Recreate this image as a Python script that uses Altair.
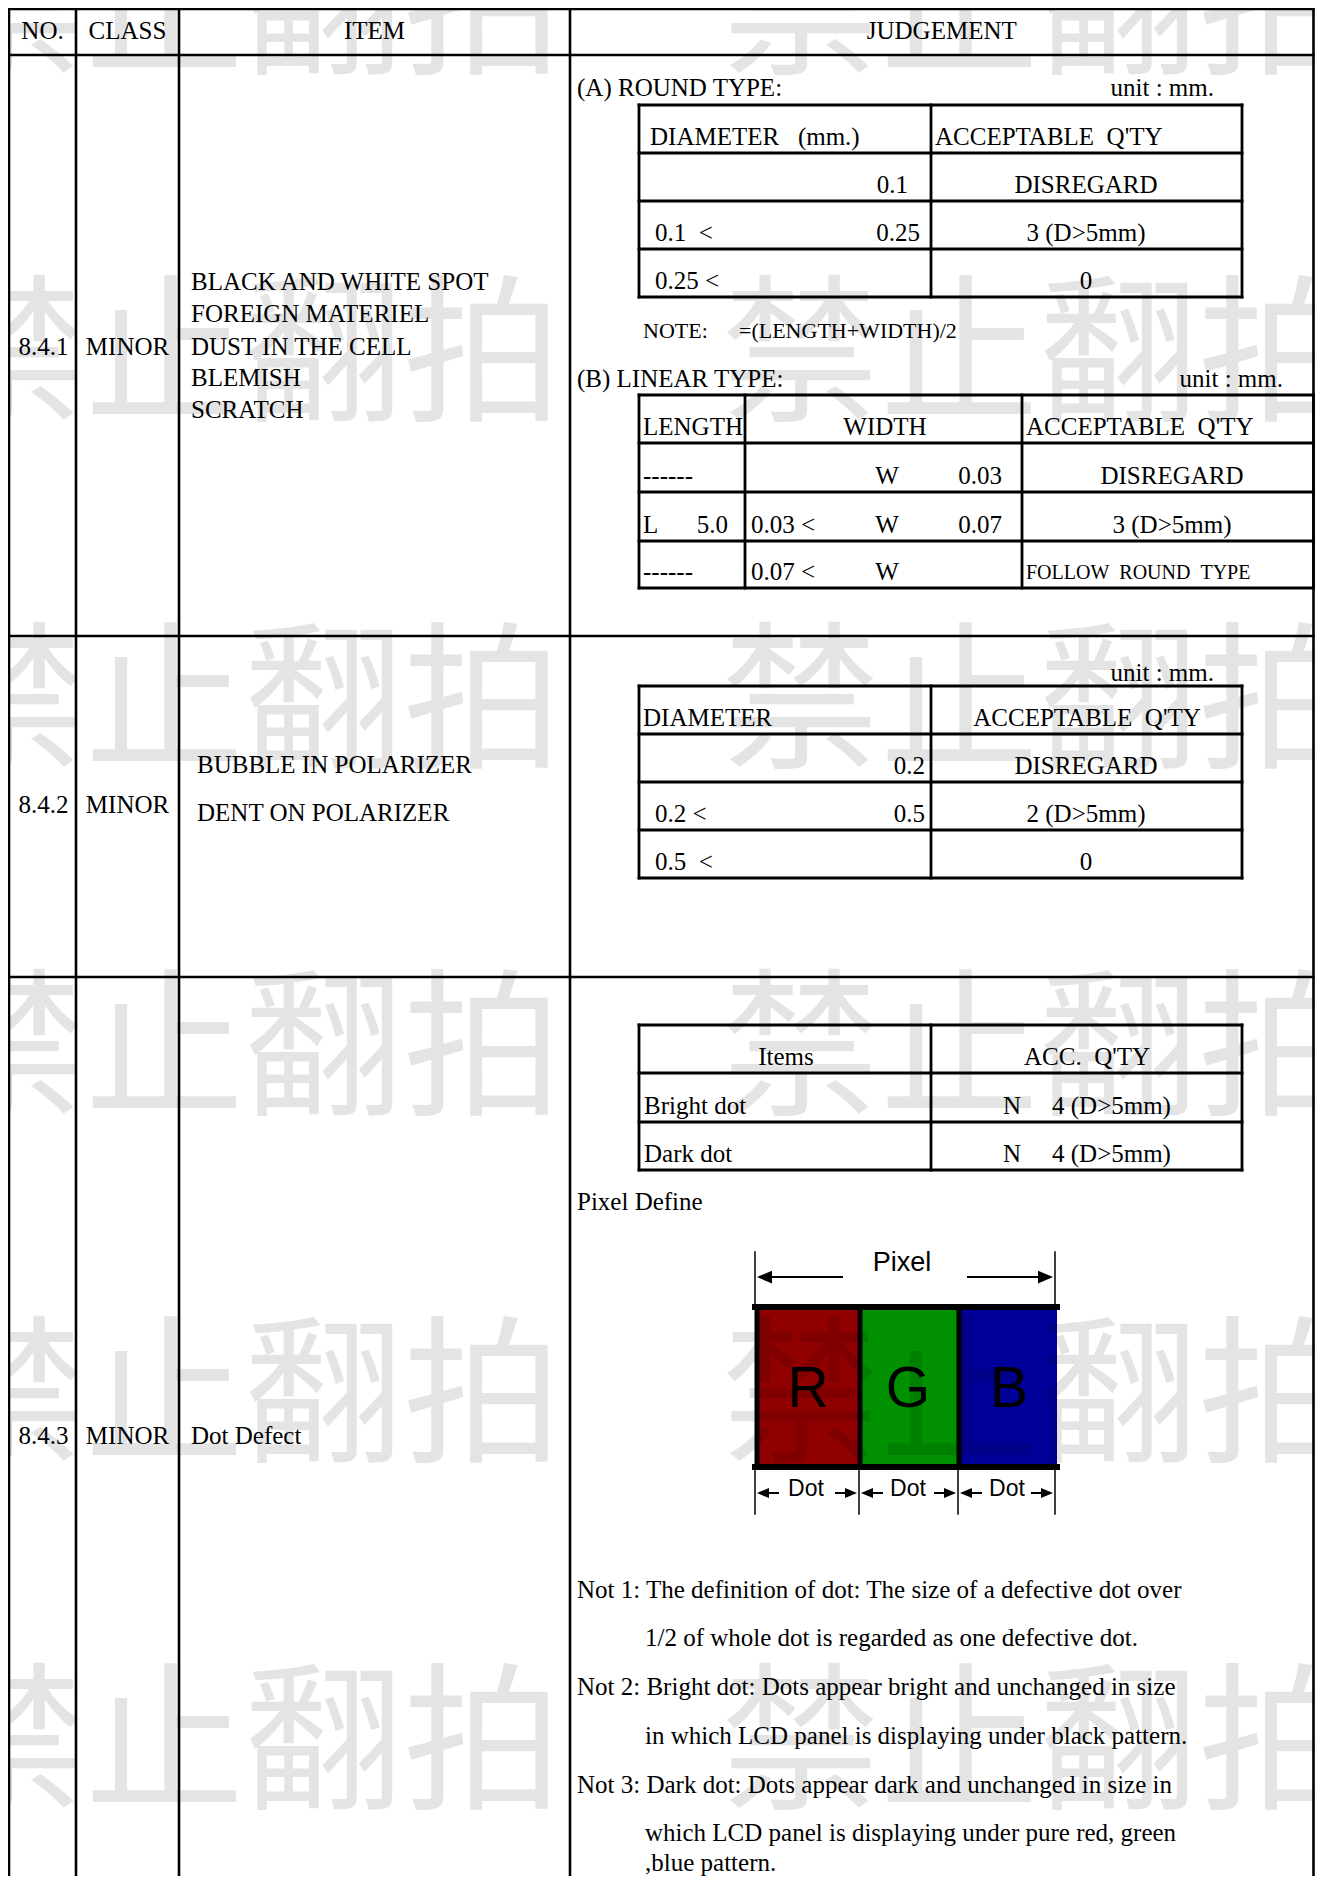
import altair as alt
import pandas as pd

NB = "\u00a0"

# ------------------------------------------------------------------ content
HEADERS = ["NO.", "CLASS", "ITEM", "JUDGEMENT"]
ROW_NO = ["8.4.1", "8.4.2", "8.4.3"]
ROW_CLASS = ["MINOR", "MINOR", "MINOR"]
ITEMS = [
    ["BLACK AND WHITE SPOT", "FOREIGN MATERIEL", "DUST IN THE CELL", "BLEMISH", "SCRATCH"],
    ["BUBBLE IN POLARIZER", "DENT ON POLARIZER"],
    ["Dot Defect"],
]

ROUND_TITLE = "(A) ROUND TYPE:"
LINEAR_TITLE = "(B) LINEAR TYPE:"
UNIT = "unit : mm."
NOTE_LABEL = "NOTE:"
NOTE_TEXT = "=(LENGTH+WIDTH)/2"

ROUND_HEAD = [f"DIAMETER{NB}{NB}{NB}(mm.)", f"ACCEPTABLE{NB}{NB}Q'TY"]
ROUND_LOW = ["", f"0.1{NB}{NB}<", "0.25 <"]
ROUND_HIGH = ["0.1", "0.25", ""]
ROUND_QTY = ["DISREGARD", "3 (D>5mm)", "0"]

LINEAR_HEAD = ["LENGTH", "WIDTH", f"ACCEPTABLE{NB}{NB}Q'TY"]
LINEAR_LEN = ["------", "L", "------"]
LINEAR_LEN_VAL = ["", "5.0", ""]
LINEAR_W_LOW = ["", "0.03 <", "0.07 <"]
LINEAR_W_SYM = ["W", "W", "W"]
LINEAR_W_HIGH = ["0.03", "0.07", ""]
LINEAR_QTY = ["DISREGARD", "3 (D>5mm)", f"FOLLOW{NB}{NB}ROUND{NB}{NB}TYPE"]

POL_HEAD = ["DIAMETER", f"ACCEPTABLE{NB}{NB}Q'TY"]
POL_LOW = ["", "0.2 <", f"0.5{NB}{NB}<"]
POL_HIGH = ["0.2", "0.5", ""]
POL_QTY = ["DISREGARD", "2 (D>5mm)", "0"]

DOT_HEAD = ["Items", f"ACC.{NB}{NB}Q'TY"]
DOT_ITEMS = ["Bright dot", "Dark dot"]
DOT_N = ["N", "N"]
DOT_QTY = ["4 (D>5mm)", "4 (D>5mm)"]

PIXEL_DEFINE = "Pixel Define"
PIXEL_LABEL = "Pixel"
SUBPIXELS = ["R", "G", "B"]
SUBPIXEL_COLORS = ["#900000", "#009000", "#000099"]
DOT_LABEL = "Dot"

NOTE_LINES = [
    "Not 1: The definition of dot: The size of a defective dot over",
    "1/2 of whole dot is regarded as one defective dot.",
    "Not 2: Bright dot: Dots appear bright and unchanged in size",
    "in which LCD panel is displaying under black pattern.",
    "Not 3: Dark dot: Dots appear dark and unchanged in size in",
    "which LCD panel is displaying under pure red, green",
    ",blue pattern.",
]
NOTE_INDENT = [False, True, False, True, False, True, True]

WATERMARK = "禁止翻拍"

# ------------------------------------------------------------------ layout (page pixels)
W, H = 1307, 1868
SERIF, SANS, CJK = "Liberation Serif", "Liberation Sans", "Noto Sans CJK SC"
FS = 25
TEXT_DY = 0

RIGHT = 1313.5
COL_X = [9, 76, 179, 570, RIGHT]
ROW_Y = [9, 55, 636, 977, 1890]
HEAD_Y = 31
ROW_TEXT_Y = [347, 805, 1436]
ITEM_X = [191, 197, 191]
ITEM_Y = [[282, 314, 347, 378, 410], [765, 813], [1436]]

ROUND_XS = [639, 931, 1242]
ROUND_YS = [105, 153, 201, 249, 297]
LIN_XS = [639, 745, 1022, RIGHT]
LIN_YS = [395, 443, 492, 541, 588]
POL_XS = [639, 931, 1242]
POL_YS = [686, 734, 782, 830, 878]
DOT_XS = [639, 931, 1242]
DOT_YS = [1025, 1073, 1122, 1170]
CELL_TEXT_UP = 16

texts = []


def put(t, x, y, align="left", size=FS, font=SERIF):
    if t:
        texts.append(dict(t=t, x=x, y=y + TEXT_DY, align=align, s=size, font=font))


rules = []


def seg(x, x2, y, y2, w=2.6):
    rules.append(dict(x=x, x2=x2, y=y, y2=y2, w=w))


def grid(xs, ys, w=2.8):
    for y in ys:
        seg(xs[0], xs[-1], y, y, w)
    for x in xs:
        seg(x, x, ys[0], ys[-1], w)


# main table
for y in ROW_Y[:-1]:
    seg(COL_X[0], COL_X[-1], y, y)
for x in COL_X:
    seg(x, x, ROW_Y[0], ROW_Y[-1])
for i, h in enumerate(HEADERS):
    put(h, (COL_X[i] + COL_X[i + 1]) / 2, HEAD_Y, "center")
for i in range(3):
    put(ROW_NO[i], (COL_X[0] + COL_X[1]) / 2 + 1, ROW_TEXT_Y[i], "center")
    put(ROW_CLASS[i], (COL_X[1] + COL_X[2]) / 2, ROW_TEXT_Y[i], "center")
    for t, y in zip(ITEMS[i], ITEM_Y[i]):
        put(t, ITEM_X[i], y)

# (A) round type
put(ROUND_TITLE, 577, 88)
put(UNIT, 1214, 88, "right")
grid(ROUND_XS, ROUND_YS)
ty = [y - CELL_TEXT_UP for y in ROUND_YS[1:]]
put(ROUND_HEAD[0], 650, ty[0])
put(ROUND_HEAD[1], 935, ty[0])
ROUND_HIGH_X = [908, 920, 920]
for i in range(3):
    put(ROUND_LOW[i], 655, ty[i + 1])
    put(ROUND_HIGH[i], ROUND_HIGH_X[i], ty[i + 1], "right")
    put(ROUND_QTY[i], 1086, ty[i + 1], "center")
put(NOTE_LABEL, 643, 331, size=22)
put(NOTE_TEXT, 739, 331, size=22)

# (B) linear type
put(LINEAR_TITLE, 577, 379)
put(UNIT, 1283, 379, "right")
grid(LIN_XS, LIN_YS)
ty = [y - CELL_TEXT_UP for y in LIN_YS[1:]]
put(LINEAR_HEAD[0], 643, ty[0])
put(LINEAR_HEAD[1], 885, ty[0], "center")
put(LINEAR_HEAD[2], 1026, ty[0])
for i in range(3):
    put(LINEAR_LEN[i], 643, ty[i + 1])
    put(LINEAR_LEN_VAL[i], 728, ty[i + 1], "right")
    put(LINEAR_W_LOW[i], 751, ty[i + 1])
    put(LINEAR_W_SYM[i], 887, ty[i + 1], "center")
    put(LINEAR_W_HIGH[i], 1002, ty[i + 1], "right")
    if i < 2:
        put(LINEAR_QTY[i], 1172, ty[i + 1], "center")
    else:
        put(LINEAR_QTY[i], 1026, ty[i + 1] + 1, size=20)

# polarizer
put(UNIT, 1214, 673, "right")
grid(POL_XS, POL_YS)
ty = [y - CELL_TEXT_UP for y in POL_YS[1:]]
put(POL_HEAD[0], 643, ty[0])
put(POL_HEAD[1], 1087, ty[0], "center")
for i in range(3):
    put(POL_LOW[i], 655, ty[i + 1])
    put(POL_HIGH[i], 925, ty[i + 1], "right")
    put(POL_QTY[i], 1086, ty[i + 1], "center")

# dot defect table
grid(DOT_XS, DOT_YS)
ty = [y - CELL_TEXT_UP for y in DOT_YS[1:]]
put(DOT_HEAD[0], 786, ty[0], "center")
put(DOT_HEAD[1], 1087, ty[0], "center")
for i in range(2):
    put(DOT_ITEMS[i], 644, ty[i + 1])
    put(DOT_N[i], 1003, ty[i + 1])
    put(DOT_QTY[i], 1052, ty[i + 1])
put(PIXEL_DEFINE, 577, 1202)

# notes
NOTE_Y = [1590, 1638, 1687, 1736, 1785, 1833, 1863]
for i, t in enumerate(NOTE_LINES):
    put(t, 645 if NOTE_INDENT[i] else 577, NOTE_Y[i])

# pixel diagram
PIX_X = [757, 860, 959, 1057]
PIX_Y = [1307, 1467]
rects = []
for i, c in enumerate(SUBPIXEL_COLORS):
    rects.append(dict(x=PIX_X[i], x2=PIX_X[i + 1], y=PIX_Y[0], y2=PIX_Y[1], c=c))
seg(755, 1057, PIX_Y[0], PIX_Y[0], 6)
seg(755, 1057, PIX_Y[1], PIX_Y[1], 6)
for x in PIX_X[:3]:
    seg(x, x, PIX_Y[0], PIX_Y[1], 5)
seg(755, 755, 1252, 1305, 1.5)
seg(1055, 1055, 1252, 1305, 1.5)
for x in [755, 859, 958, 1055]:
    seg(x, x, 1468, 1514, 1.5)
ARROW_Y = 1277
seg(760, 842, ARROW_Y, ARROW_Y, 2)
seg(968, 1050, ARROW_Y, ARROW_Y, 2)
LEFT_HEAD = "M -1 0 L 1 -0.85 L 1 0.85 Z"
RIGHT_HEAD = "M 1 0 L -1 -0.85 L -1 0.85 Z"
heads = [dict(x=757 + 7.5, y=ARROW_Y, shape=LEFT_HEAD, size=225),
         dict(x=1053 - 7.5, y=ARROW_Y, shape=RIGHT_HEAD, size=225)]
put(PIXEL_LABEL, 902, 1263, "center", 27, SANS)
LETTER_X = [808, 908, 1009]
for t, x in zip(SUBPIXELS, LETTER_X):
    put(t, x, 1390, "center", 57, SANS)
DOT_ARROW_Y = 1493
DOT_SEGS = [(755, 859), (859, 958), (958, 1055)]
DOT_TEXT_X = [806, 908, 1007]
for (a, b), tx in zip(DOT_SEGS, DOT_TEXT_X):
    seg(a + 6, a + 23, DOT_ARROW_Y, DOT_ARROW_Y, 2)
    seg(b - 23, b - 6, DOT_ARROW_Y, DOT_ARROW_Y, 2)
    heads.append(dict(x=a + 2 + 6, y=DOT_ARROW_Y, shape=LEFT_HEAD, size=144))
    heads.append(dict(x=b - 2 - 6, y=DOT_ARROW_Y, shape=RIGHT_HEAD, size=144))
    put(DOT_LABEL, tx, 1489, "center", 23, SANS)

# watermark
WM_SIZE = 159
WM_X = [-74, 721]
WM_Y = [14 + 347 * k for k in range(6)]
wm = [dict(t=WATERMARK, x=x, y=y) for x in WM_X for y in WM_Y]

# ------------------------------------------------------------------ chart
xs = alt.Scale(domain=[8, 8 + W], nice=False, zero=False)
ys = alt.Scale(domain=[8, 8 + H], nice=False, zero=False, reverse=True)
X = lambda f="x": alt.X(f"{f}:Q", scale=xs, axis=None)
Y = lambda f="y": alt.Y(f"{f}:Q", scale=ys, axis=None)

rect_layer = alt.Chart(pd.DataFrame(rects)).mark_rect().encode(
    x=X(), x2="x2:Q", y=Y(), y2="y2:Q", color=alt.Color("c:N", scale=None))

rule_layer = alt.Chart(pd.DataFrame(rules)).mark_rule(color="black", strokeCap="square").encode(
    x=X(), x2="x2:Q", y=Y(), y2="y2:Q",
    strokeWidth=alt.StrokeWidth("w:Q", scale=None, legend=None))

head_layer = alt.Chart(pd.DataFrame(heads)).mark_point(
    filled=True, color="black", opacity=1, strokeWidth=0).encode(
    x=X(), y=Y(), shape=alt.Shape("shape:N", scale=None),
    size=alt.Size("size:Q", scale=None, legend=None))

tdf = pd.DataFrame(texts)
text_layers = []
for (align, font), g in tdf.groupby(["align", "font"]):
    text_layers.append(
        alt.Chart(g.drop(columns=["align", "font"])).mark_text(
            align=align, baseline="middle", font=font, color="black").encode(
            x=X(), y=Y(), text="t:N", size=alt.Size("s:Q", scale=None, legend=None)))

wm_layer = alt.Chart(pd.DataFrame(wm)).mark_text(
    align="left", baseline="middle", font=CJK, fontSize=WM_SIZE,
    color="black", opacity=0.1).encode(x=X(), y=Y(), text="t:N")

chart = alt.layer(rect_layer, rule_layer, head_layer, *text_layers, wm_layer).properties(
    width=W, height=H, padding=0, autosize=alt.AutoSizeParams(type="none")
).configure_view(stroke=None).configure(background="white")

chart.save("out.html", embed_options={"renderer": "svg", "actions": False})
